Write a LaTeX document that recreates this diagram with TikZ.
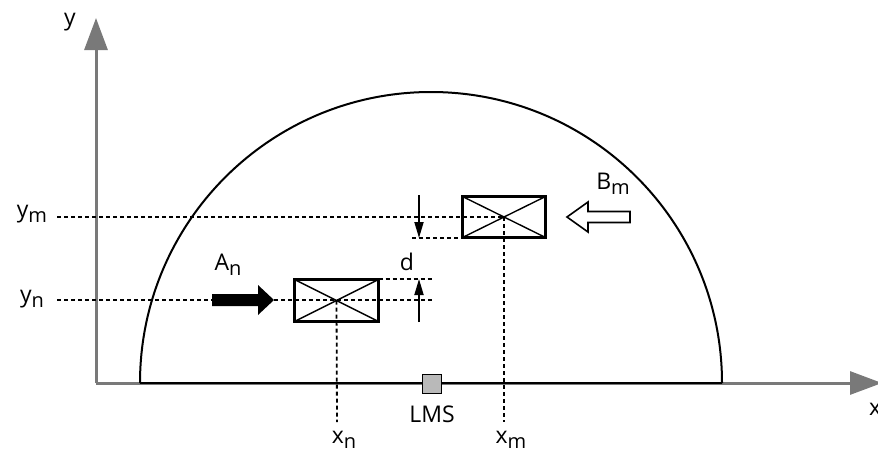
\documentclass[tikz,border=0pt]{standalone}
\usepackage{fontspec}
\setmainfont{Open Sans}
\usetikzlibrary{arrows.meta}
\newcommand{\sbs}[1]{\raisebox{-5pt}{\fontsize{20}{20}\selectfont #1}}
\begin{document}
\begin{tikzpicture}[x=1pt,y=-1pt,
  lbl/.style={font=\fontsize{23}{23}\selectfont, inner sep=0pt, text=black},
  axis/.style={draw=gray!95!black, line width=3pt, -{Triangle[length=32pt,width=23pt]}},
  dsh/.style={line width=1.8pt, dash pattern=on 4pt off 3pt},
  sensor/.style={draw, line width=3.2pt, outer sep=0pt, inner sep=0pt, fill=white},
  dimarrow/.style={line width=1.8pt, -{Triangle[length=16pt,width=9pt]}}]
\useasboundingbox (0,0) rectangle (878,453);
% axes
\coordinate (O) at (96,383);
\coordinate (ytip) at (96,18);
\coordinate (xtip) at (882,383);
\draw[axis] (O) -- (ytip);
\draw[axis] (O) -- (xtip);
\node[lbl] (ylab) at (70,22) {y};
\node[lbl, anchor=west] (xlab) at (869,409) {x};
% half circle
\coordinate (cl) at (140,383);
\coordinate (cr) at (722,383);
\draw[line width=2pt] (cl) arc (180:360:291);
\draw[line width=2.5pt] (cl) -- (cr);
% LMS
\node[draw, line width=1.8pt, fill=gray!55, minimum size=19pt, inner sep=0pt] (lms) at (432,384) {};
\node[lbl] (lmslab) at (432,414) {LMS};
% sensors
\node[sensor, minimum width=84pt, minimum height=42pt] (bn) at (336.5,300.5) {};
\node[sensor, minimum width=83pt, minimum height=41pt] (bm) at (504,217) {};
\draw[line width=1.4pt] (bn.north west) -- (bn.south east) (bn.south west) -- (bn.north east);
\draw[line width=1.4pt] (bm.north west) -- (bm.south east) (bm.south west) -- (bm.north east);
% dashed guides
\coordinate (yn0) at (57,300);
\coordinate (ym0) at (57,217);
\coordinate (ynE) at (432,300);
\coordinate (ntE) at (432,279);
\coordinate (mbW) at (412,238);
\coordinate (xnB) at (337,422);
\coordinate (xmB) at (504,422);
\draw[dsh] (yn0) -- (ynE);
\draw[dsh] (ym0) -- (bm.center);
\draw[dsh] (bn.east |- ntE) -- (ntE);
\draw[dsh] (mbW) -- (bm.west |- mbW);
\draw[dsh] (bn.center) -- (xnB);
\draw[dsh] (bm.center) -- (xmB);
% dimension d
\coordinate (dtop) at (419,195);
\coordinate (dbot) at (419,322);
\draw[dimarrow] (dtop) -- (419,238);
\draw[dimarrow] (dbot) -- (419,279);
\node[lbl] (dlab) at (407,262) {d};
% labels
\node[lbl] (ymlab) at (32,214) {y\sbs{m}};
\node[lbl] (ynlab) at (32,299) {y\sbs{n}};
\node[lbl] (xnlab) at (344,440) {x\sbs{n}};
\node[lbl] (xmlab) at (511,440) {x\sbs{m}};
\node[lbl] (anlab) at (228,265) {A\sbs{n}};
\node[lbl] (bmlab) at (613,184) {B\sbs{m}};
% block arrows
\fill (212,294) -- (258,294) -- (258,285) -- (274,300) -- (258,315) -- (258,306) -- (212,306) -- cycle;
\draw[line width=1.6pt, fill=white, line join=miter] (630,211.5) -- (588,211.5) -- (588,202) -- (567,217) -- (588,232) -- (588,222.5) -- (630,222.5) -- cycle;
\end{tikzpicture}
\end{document}
